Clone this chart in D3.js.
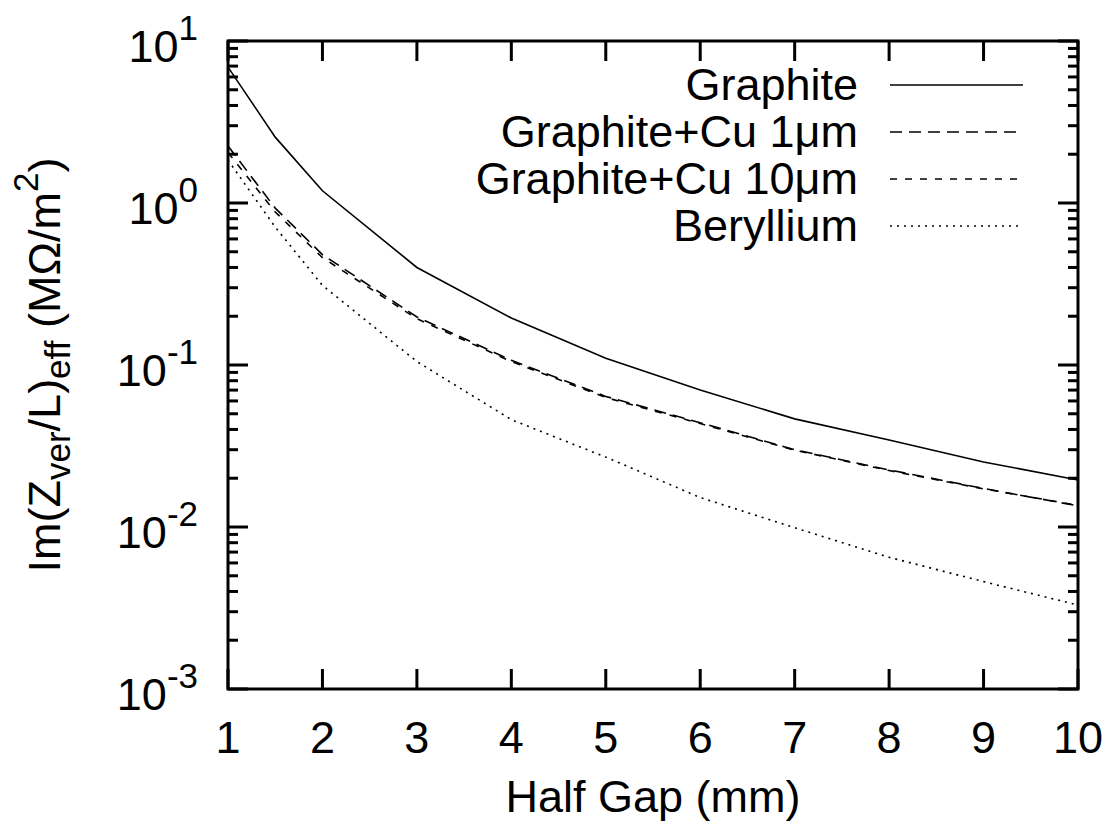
<!DOCTYPE html>
<html>
    <head>
        <script src="https://d3js.org/d3.v7.min.js"></script>
        <style>
            body { margin: 0; background: white; }
            text { font-family: "Liberation Sans", Arial, sans-serif; fill: black; }
        </style>
    </head>
    <body>
        <svg width="1114" height="835"></svg>

        <script>
            // half gap (mm)
            const halfGap = [1, 1.5, 2, 3, 4, 5, 6, 7, 8, 9, 10];

            // Im(Z_ver/L)_eff in MOhm/m^2
            const graphite = [6.9, 2.55, 1.19, 0.40, 0.195, 0.110, 0.070, 0.0465, 0.0344, 0.0252, 0.0195];
            const graphiteCu1 = [2.25, 0.93, 0.48, 0.198, 0.107, 0.064, 0.044, 0.030, 0.0225, 0.0173, 0.0135];
            const graphiteCu10 = [2.05, 0.88, 0.46, 0.193, 0.105, 0.063, 0.0435, 0.0298, 0.0223, 0.0172, 0.0136];
            const beryllium = [1.84, 0.71, 0.31, 0.105, 0.046, 0.027, 0.0152, 0.0099, 0.0065, 0.0046, 0.0033];

            const xTicks = [1, 2, 3, 4, 5, 6, 7, 8, 9, 10];
            const yExponents = [1, 0, -1, -2, -3];

            const svg = d3.select("svg");
            const width = +svg.attr("width");
            const height = +svg.attr("height");

            const plotLeft = 228, plotRight = 1078, plotTop = 41, plotBottom = 689;

            const x = d3.scaleLinear().domain([1, 10]).range([plotLeft, plotRight]);
            const y = d3.scaleLog().domain([1e-3, 1e1]).range([plotBottom, plotTop]);

            svg.append("rect")
                .attr("width", width).attr("height", height)
                .attr("fill", "white");

            // 데이터 선
            const series = [
                { name: "Graphite", values: graphite, dash: null },
                { name: "Graphite+Cu 1\u03bcm", values: graphiteCu1, dash: "12,7" },
                { name: "Graphite+Cu 10\u03bcm", values: graphiteCu10, dash: "7,8" },
                { name: "Beryllium", values: beryllium, dash: "2,5" }
            ];

            const line = d3.line()
                .x((d, i) => x(halfGap[i]))
                .y(d => y(d));

            svg.append("g")
                .selectAll("path")
                .data(series)
                .join("path")
                .attr("d", d => line(d.values))
                .attr("fill", "none")
                .attr("stroke", "black")
                .attr("stroke-width", 1.6)
                .attr("stroke-dasharray", d => d.dash);

            // 프레임
            svg.append("rect")
                .attr("x", plotLeft).attr("y", plotTop)
                .attr("width", plotRight - plotLeft).attr("height", plotBottom - plotTop)
                .attr("fill", "none")
                .attr("stroke", "black")
                .attr("stroke-width", 3);

            const ticks = svg.append("g")
                .attr("stroke", "black")
                .attr("stroke-width", 3);

            // x ticks, bottom and top, pointing inward
            xTicks.forEach(t => {
                ticks.append("line")
                    .attr("x1", x(t)).attr("x2", x(t))
                    .attr("y1", plotBottom).attr("y2", plotBottom - 20);
                ticks.append("line")
                    .attr("x1", x(t)).attr("x2", x(t))
                    .attr("y1", plotTop).attr("y2", plotTop + 20);
            });

            // y ticks: major at decades, minor at 2..9
            yExponents.forEach(e => {
                const v = Math.pow(10, e);
                ticks.append("line")
                    .attr("x1", plotLeft).attr("x2", plotLeft + 20)
                    .attr("y1", y(v)).attr("y2", y(v));
                ticks.append("line")
                    .attr("x1", plotRight).attr("x2", plotRight - 20)
                    .attr("y1", y(v)).attr("y2", y(v));
                if (e < 1) {
                    for (let m = 2; m <= 9; m++) {
                        const mv = m * v;
                        ticks.append("line")
                            .attr("x1", plotLeft).attr("x2", plotLeft + 10)
                            .attr("y1", y(mv)).attr("y2", y(mv));
                        ticks.append("line")
                            .attr("x1", plotRight).attr("x2", plotRight - 10)
                            .attr("y1", y(mv)).attr("y2", y(mv));
                    }
                }
            });

            // x tick labels
            svg.append("g")
                .selectAll("text")
                .data(xTicks)
                .join("text")
                .attr("x", d => x(d))
                .attr("y", plotBottom + 64)
                .attr("text-anchor", "middle")
                .style("font-size", "45px")
                .text(d => d);

            // y tick labels 10^k
            const yl = svg.append("g")
                .selectAll("text")
                .data(yExponents)
                .join("text")
                .attr("x", 198)
                .attr("y", d => y(Math.pow(10, d)) + 21)
                .attr("text-anchor", "end")
                .style("font-size", "45px");
            yl.append("tspan").text("10");
            yl.append("tspan")
                .attr("dy", -22)
                .style("font-size", "35px")
                .text(d => d < 0 ? "-" + (-d) : d);

            // axis titles
            svg.append("text")
                .attr("x", (plotLeft + plotRight) / 2)
                .attr("y", 812)
                .attr("text-anchor", "middle")
                .style("font-size", "45px")
                .text("Half Gap (mm)");

            const yt = svg.append("text")
                .attr("transform", `translate(60,${(plotTop + plotBottom) / 2}) rotate(-90)`)
                .attr("text-anchor", "middle")
                .style("font-size", "45px");
            yt.append("tspan").text("Im(Z");
            yt.append("tspan").attr("dy", 10).style("font-size", "35px").text("ver");
            yt.append("tspan").attr("dy", -10).text("/L)");
            yt.append("tspan").attr("dy", 10).style("font-size", "35px").text("eff");
            yt.append("tspan").attr("dy", -10).text(" (M\u03a9/m");
            yt.append("tspan").attr("dy", -22).style("font-size", "35px").text("2");
            yt.append("tspan").attr("dy", 22).text(")");

            // legend
            const legend = svg.append("g")
                .selectAll("g")
                .data(series)
                .join("g")
                .attr("transform", (d, i) => `translate(0,${85 + i * 47})`);

            legend.append("text")
                .attr("x", 858)
                .attr("y", 15)
                .attr("text-anchor", "end")
                .style("font-size", "45px")
                .text(d => d.name);

            legend.append("line")
                .attr("x1", 890).attr("x2", 1023)
                .attr("stroke", "black")
                .attr("stroke-width", 1.6)
                .attr("stroke-dasharray", d => d.dash);
        </script>
    </body>
</html>
